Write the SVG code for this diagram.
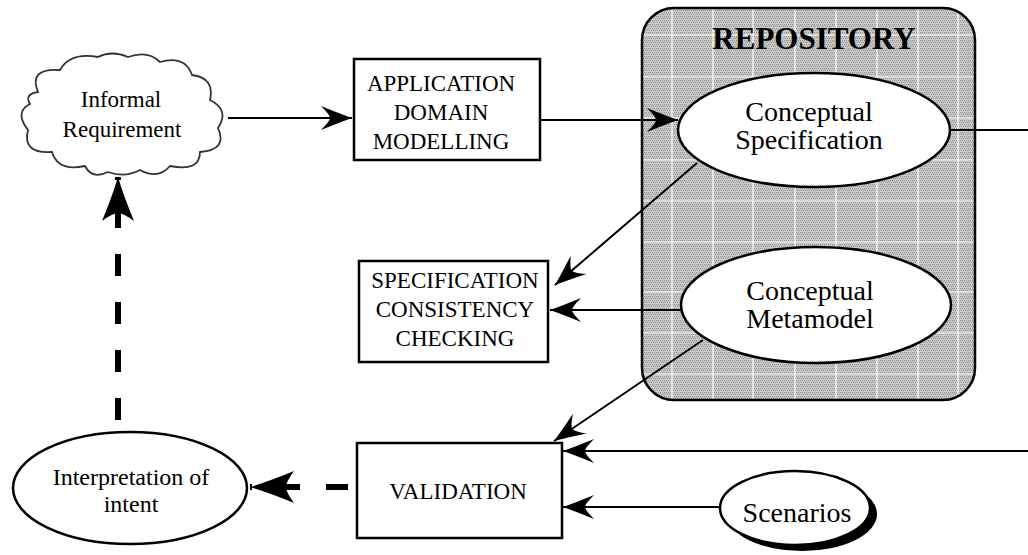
<svg xmlns="http://www.w3.org/2000/svg" width="1028" height="555" viewBox="0 0 1028 555">
  <style>
    .lbl { font-family: "Liberation Serif", "Times New Roman", serif; fill: #000; text-anchor: middle; }
    .sm { font-size: 23px; }
    .it { font-size: 24px; }
    .md { font-size: 28px; }
    .title { font-size: 31px; font-weight: bold; }
    .box { fill: #fff; stroke: #000; stroke-width: 2.5; }
    .oval { fill: #fff; stroke: #000; stroke-width: 2.5; }
    .edge { fill: none; stroke: #000; stroke-width: 2; }
    .dash { fill: none; stroke: #000; stroke-width: 6; stroke-dasharray: 22 26; }
    .grid line { stroke: #fff; stroke-width: 1.2; }
  </style>
  <defs>
    <marker id="arrow" markerUnits="userSpaceOnUse" viewBox="-33 -13 35 26" refX="0" refY="0" markerWidth="35" markerHeight="26" orient="auto">
      <path d="M0,0 Q-14,-5 -31,-12 Q-22,-3 -22,0 Q-22,3 -31,12 Q-14,5 0,0 Z" fill="#000"/>
    </marker>
    <marker id="bigArrow" markerUnits="userSpaceOnUse" viewBox="-46 -17 48 34" refX="0" refY="0" markerWidth="48" markerHeight="34" orient="auto">
      <path d="M0,0 Q-20,-6 -44,-16 Q-36,-5 -36,0 Q-36,5 -44,16 Q-20,6 0,0 Z" fill="#000"/>
    </marker>
    <pattern id="dither" width="2" height="4" patternUnits="userSpaceOnUse">
      <rect width="2" height="4" fill="#cbcbcb"/>
      <rect x="0" y="0" width="1" height="1" fill="#949494"/>
      <rect x="1" y="2" width="1" height="1" fill="#949494"/>
      <rect x="0" y="1" width="1" height="1" fill="#b4b4b4"/>
    </pattern>
    <clipPath id="repoClip">
      <rect x="642" y="8" width="333" height="392" rx="32" ry="32"/>
    </clipPath>
  </defs>

  <!-- repository container -->
  <g id="repository">
    <rect x="642" y="8" width="333" height="392" rx="32" ry="32" fill="url(#dither)"/>
    <g class="grid" clip-path="url(#repoClip)">
      <line x1="672" y1="0" x2="672" y2="410"/>
      <line x1="713" y1="0" x2="713" y2="410"/>
      <line x1="753" y1="0" x2="753" y2="410"/>
      <line x1="795" y1="0" x2="795" y2="410"/>
      <line x1="836" y1="0" x2="836" y2="410"/>
      <line x1="877" y1="0" x2="877" y2="410"/>
      <line x1="918" y1="0" x2="918" y2="410"/>
      <line x1="958" y1="0" x2="958" y2="410"/>
      <line x1="630" y1="35" x2="990" y2="35"/>
      <line x1="630" y1="77" x2="990" y2="77"/>
      <line x1="630" y1="118" x2="990" y2="118"/>
      <line x1="630" y1="160" x2="990" y2="160"/>
      <line x1="630" y1="201" x2="990" y2="201"/>
      <line x1="630" y1="242" x2="990" y2="242"/>
      <line x1="630" y1="292" x2="990" y2="292"/>
      <line x1="630" y1="333" x2="990" y2="333"/>
      <line x1="630" y1="374" x2="990" y2="374"/>
    </g>
    <rect x="642" y="8" width="333" height="392" rx="32" ry="32" fill="none" stroke="#000" stroke-width="2.5"/>
    <text class="lbl title" x="814" y="49">REPOSITORY</text>
  </g>

  <!-- connectors -->
  <g id="connectors">
    <line class="edge" x1="228" y1="118" x2="352" y2="118" marker-end="url(#arrow)"/>
    <line class="edge" x1="540" y1="120" x2="678" y2="120" marker-end="url(#arrow)"/>
    <line class="edge" x1="950" y1="130" x2="1028" y2="130"/>
    <line class="edge" x1="697" y1="163" x2="555" y2="285" marker-end="url(#arrow)"/>
    <line class="edge" x1="681" y1="310" x2="550" y2="310" marker-end="url(#arrow)"/>
    <line class="edge" x1="703" y1="340" x2="554" y2="441" marker-end="url(#arrow)"/>
    <line class="edge" x1="1028" y1="451" x2="563" y2="451" marker-end="url(#arrow)"/>
    <line class="edge" x1="720" y1="507" x2="563" y2="507" marker-end="url(#arrow)"/>
    <line class="dash" x1="348" y1="487" x2="250" y2="487" marker-end="url(#bigArrow)"/>
    <line class="dash" x1="118" y1="420" x2="118" y2="177" marker-end="url(#bigArrow)"/>
  </g>

  <!-- informal requirement cloud -->
  <g id="informal-requirement">
    <path d="M38 92 Q28 68 60 70 Q70 52 98 57 Q112 50 128 57 Q148 50 160 62 Q185 55 192 75 Q215 78 210 100 Q230 110 218 128 Q228 150 200 152 Q200 172 170 166 Q158 180 140 170 Q125 178 108 172 Q92 180 85 166 Q58 172 52 152 Q22 154 28 130 Q14 112 30 104 Q24 94 38 92 Z" fill="#fff" stroke="#333" stroke-width="1.8"/>
    <text class="lbl sm" x="121" y="107">Informal</text>
    <text class="lbl sm" x="122" y="137">Requirement</text>
  </g>

  <g id="application-domain-modelling">
    <rect class="box" x="354" y="59" width="186" height="101"/>
    <text class="lbl sm" x="441" y="91">APPLICATION</text>
    <text class="lbl sm" x="441" y="120">DOMAIN</text>
    <text class="lbl sm" x="441" y="149">MODELLING</text>
  </g>

  <g id="conceptual-specification">
    <ellipse class="oval" cx="814" cy="130" rx="136" ry="57"/>
    <text class="lbl md" x="809" y="121">Conceptual</text>
    <text class="lbl md" x="809" y="149">Specification</text>
  </g>

  <g id="conceptual-metamodel">
    <ellipse class="oval" cx="816" cy="305" rx="135" ry="58"/>
    <text class="lbl md" x="810" y="300">Conceptual</text>
    <text class="lbl md" x="810" y="328">Metamodel</text>
  </g>

  <g id="specification-consistency-checking">
    <rect class="box" x="359" y="261" width="189" height="101"/>
    <text class="lbl sm" x="455" y="288">SPECIFICATION</text>
    <text class="lbl sm" x="455" y="317">CONSISTENCY</text>
    <text class="lbl sm" x="455" y="346">CHECKING</text>
  </g>

  <g id="validation">
    <rect class="box" x="357" y="443" width="205" height="95"/>
    <text class="lbl sm" x="458" y="499">VALIDATION</text>
  </g>

  <g id="interpretation-of-intent">
    <ellipse class="oval" cx="130" cy="488" rx="117" ry="56"/>
    <text class="lbl it" x="131" y="485">Interpretation of</text>
    <text class="lbl it" x="131" y="512">intent</text>
  </g>

  <g id="scenarios">
    <ellipse cx="802" cy="514" rx="75" ry="37" fill="#000"/>
    <ellipse class="oval" cx="795" cy="508" rx="75" ry="37"/>
    <text class="lbl md" x="797" y="522">Scenarios</text>
  </g>
</svg>
